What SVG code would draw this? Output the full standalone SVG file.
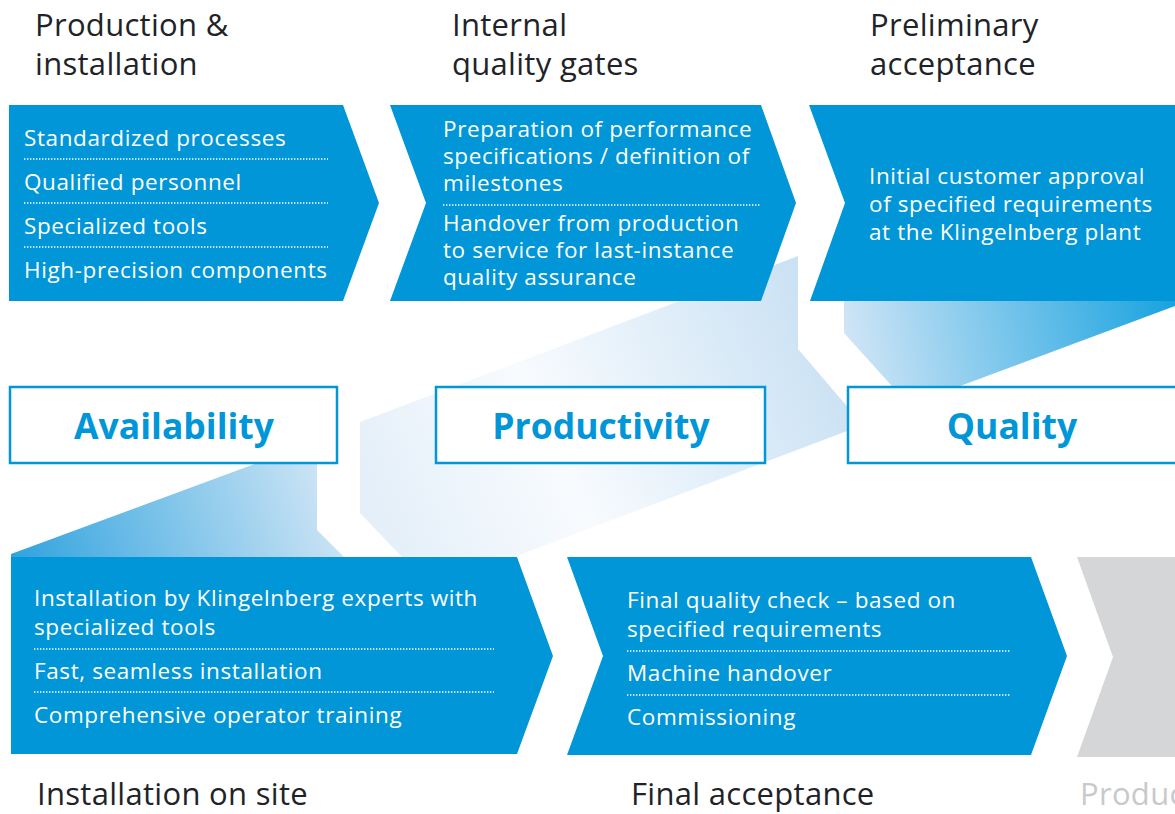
<svg xmlns="http://www.w3.org/2000/svg" width="1175" height="814" viewBox="0 0 1175 814">
<defs>
<linearGradient id="gLL" gradientUnits="userSpaceOnUse" x1="11" y1="557" x2="330" y2="450">
<stop offset="0" stop-color="#2fa3de"/>
<stop offset="1" stop-color="#d4e7f6"/>
</linearGradient>
<linearGradient id="gMid" gradientUnits="userSpaceOnUse" x1="360" y1="480" x2="800" y2="290">
<stop offset="0" stop-color="#e4eff9"/>
<stop offset="0.4" stop-color="#f8fbfe"/>
<stop offset="1" stop-color="#cbe2f4"/>
</linearGradient>
<linearGradient id="gTR" gradientUnits="userSpaceOnUse" x1="850" y1="360" x2="1175" y2="290">
<stop offset="0" stop-color="#d0e5f6"/>
<stop offset="1" stop-color="#17a2df"/>
</linearGradient>
<style>
.chev{fill:#0096d8}
.grey{fill:#d5d6d8}
.head{font-family:"Open Sans","Noto Sans",sans-serif;font-size:31px;letter-spacing:0.3px;fill:#1e2328}
.item{font-family:"Open Sans","Noto Sans",sans-serif;font-size:22.5px;letter-spacing:0.6px;fill:#ffffff}
.dot{stroke:#ffffff;stroke-width:1.6;stroke-dasharray:1.4 1.6;fill:none}
.box{fill:#ffffff;stroke:#0096d8;stroke-width:2.5}
.key{font-family:"Open Sans","Noto Sans",sans-serif;font-size:35.5px;font-weight:bold;fill:#0096d8;text-anchor:middle}
</style>
</defs>
<rect width="1175" height="814" fill="#ffffff"/>

<g id="background-band">
<polygon points="11,557 11,554 317,441 317,530 344,557" fill="url(#gLL)"/>
<polygon points="360,422 798,256 798,349 863,425 514,557 402,557 360,513" fill="url(#gMid)"/>
<polygon points="844,238 1175,238 1175,306 909,405 844,333" fill="url(#gTR)"/>
</g>

<g id="titles">
<text class="head" x="35" y="36">Production &amp;</text>
<text class="head" x="35" y="75">installation</text>
<text class="head" x="452" y="36">Internal</text>
<text class="head" x="452" y="75">quality gates</text>
<text class="head" x="870" y="36">Preliminary</text>
<text class="head" x="870" y="75">acceptance</text>
</g>

<g id="node-production">
<polygon class="chev" points="9,105 343,105 379,203 343,301 9,301"/>
<text class="item" x="24" y="146">Standardized processes</text>
<line class="dot" x1="24" y1="159" x2="328" y2="159"/>
<text class="item" x="24" y="190">Qualified personnel</text>
<line class="dot" x1="24" y1="203" x2="328" y2="203"/>
<text class="item" x="24" y="234">Specialized tools</text>
<line class="dot" x1="24" y1="247" x2="328" y2="247"/>
<text class="item" x="24" y="278">High-precision components</text>
</g>

<g id="node-internal">
<polygon class="chev" points="390,105 761,105 796,203 761,301 390,301 426,203"/>
<text class="item" x="443" y="137">Preparation of performance</text>
<text class="item" x="443" y="164">specifications / definition of</text>
<text class="item" x="443" y="191">milestones</text>
<line class="dot" x1="443" y1="205" x2="761" y2="205"/>
<text class="item" x="443" y="231">Handover from production</text>
<text class="item" x="443" y="258">to service for last-instance</text>
<text class="item" x="443" y="285">quality assurance</text>
</g>

<g id="node-preliminary">
<polygon class="chev" points="809,105 1175,105 1175,301 810,301 845,203"/>
<text class="item" x="869" y="184">Initial customer approval</text>
<text class="item" x="869" y="212">of specified requirements</text>
<text class="item" x="869" y="240">at the Klingelnberg plant</text>
</g>

<g id="node-availability">
<rect class="box" x="10" y="387" width="327" height="76"/>
<text class="key" x="174" y="439">Availability</text>
</g>
<g id="node-productivity">
<rect class="box" x="436" y="387" width="329" height="76"/>
<text class="key" x="601" y="439">Productivity</text>
</g>
<g id="node-quality">
<rect class="box" x="848" y="387" width="332" height="76"/>
<text class="key" x="1012" y="439">Quality</text>
</g>

<g id="node-installation">
<polygon class="chev" points="11,557 517,557 553,656 517,754 11,754"/>
<text class="item" x="34" y="606">Installation by Klingelnberg experts with</text>
<text class="item" x="34" y="635">specialized tools</text>
<line class="dot" x1="34" y1="649" x2="494" y2="649"/>
<text class="item" x="34" y="679">Fast, seamless installation</text>
<line class="dot" x1="34" y1="692" x2="494" y2="692"/>
<text class="item" x="34" y="723">Comprehensive operator training</text>
<text class="head" x="37" y="805">Installation on site</text>
</g>

<g id="node-final">
<polygon class="chev" points="567,557 1031,557 1067,656 1031,755 567,755 603,656"/>
<text class="item" x="627" y="608">Final quality check – based on</text>
<text class="item" x="627" y="637">specified requirements</text>
<line class="dot" x1="627" y1="651" x2="1010" y2="651"/>
<text class="item" x="627" y="681">Machine handover</text>
<line class="dot" x1="627" y1="695" x2="1010" y2="695"/>
<text class="item" x="627" y="725">Commissioning</text>
<text class="head" x="631" y="805">Final acceptance</text>
</g>

<g id="node-production-next">
<polygon class="grey" points="1077,557 1175,557 1175,757 1077,757 1113,657"/>
<text class="head" x="1080" y="805" style="fill:#c8c9cb">Produc</text>
</g>

<g id="connectors"></g>
</svg>
